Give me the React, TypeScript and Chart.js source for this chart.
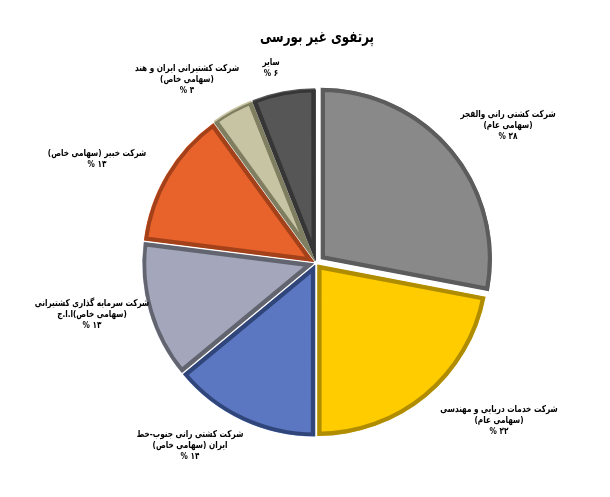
import { useEffect, useRef } from 'react'
import { Chart, ChartConfiguration, Plugin } from 'chart.js/auto'

// slices, clockwise from 12 o'clock
const categories = [
  'شرکت کشتی رانی والفجر (سهامی عام)',
  'شرکت خدمات دریایی و مهندسی (سهامی عام)',
  'شرکت کشتی رانی جنوب-خط ایران (سهامی خاص)',
  'شرکت سرمایه گذاری کشتیرانی ج.ا.ا(سهامی خاص)',
  'شرکت خبیر (سهامی خاص)',
  'شرکت کشتیرانی ایران و هند (سهامی خاص)',
  'سایر',
]
const shares = [28, 22, 14, 13, 13, 4, 6]
const percentLabels = ['۲۸ %', '۲۲ %', '۱۴ %', '۱۳ %', '۱۳ %', '۴ %', '۶ %']
const nameLines = [
  ['شرکت کشتی رانی والفجر', '(سهامی عام)'],
  ['شرکت خدمات دریایی و مهندسی', '(سهامی عام)'],
  ['شرکت کشتی رانی جنوب-خط', 'ایران (سهامی خاص)'],
  ['شرکت سرمایه گذاری کشتیرانی', 'ج\u200E.\u200Eا\u200E.\u200Eا\u200E(سهامی خاص)'],
  ['شرکت خبیر (سهامی خاص)'],
  ['شرکت کشتیرانی ایران و هند', '(سهامی خاص)'],
  ['سایر'],
]
const chartTitle = 'پرتفوی غیر بورسی'

// styling / layout
const fills = ['#898989', '#ffcc00', '#5b77c1', '#a4a6bb', '#e8622c', '#c6c4a2', '#565656']
const rims = ['#5c5c5c', '#b08c00', '#30457a', '#62646f', '#a3411a', '#7f7e60', '#363636']
const offsets = [26, 10, 10, 10, 10, 10, 10]
const labelAnchors = [
  [508, 126],
  [499, 421],
  [190, 446],
  [92, 315],
  [97, 159],
  [187, 80],
  [271, 68],
]
const FONT = '"DejaVu Sans", sans-serif'

function drawText(ctx: CanvasRenderingContext2D, t: string, x: number, y: number, sx: number) {
  ctx.save()
  ;(ctx as any).direction = t.includes('\u200E') ? 'ltr' : 'rtl'
  ctx.translate(x, y)
  ctx.scale(sx, 1)
  ctx.fillText(t, 0, 0)
  ctx.restore()
}

const labelPlugin: Plugin = {
  id: 'sliceLabels',
  afterDraw(chart) {
    const ctx = chart.ctx
    ctx.save()
    ctx.fillStyle = '#000'
    ctx.textAlign = 'center'
    ctx.textBaseline = 'middle'
    ctx.font = `bold 16px ${FONT}`
    drawText(ctx, chartTitle, 317, 38, 0.74)

    ctx.font = `bold 9.5px ${FONT}`
    const lh = 11
    nameLines.forEach((lines, i) => {
      const all = [...lines, percentLabels[i]]
      const [cx, cy] = labelAnchors[i]
      const y0 = cy - ((all.length - 1) * lh) / 2
      all.forEach((t, j) => drawText(ctx, t, cx, y0 + j * lh, 0.77))
    })
    ctx.restore()
  },
}

export default function App() {
  const chartRef = useRef<HTMLCanvasElement>(null)

  useEffect(() => {
    document.body.style.margin = '0'
    if (!chartRef.current) return
    const ctx = chartRef.current.getContext('2d')
    if (!ctx) return
    const chart = new Chart(ctx, {
      type: 'pie',
      data: {
        labels: categories,
        datasets: [
          {
            data: shares,
            backgroundColor: fills,
            borderColor: rims,
            borderWidth: 4,
            borderAlign: 'inner',
            offset: offsets,
          },
        ],
      },
      options: {
        animation: false,
        responsive: true,
        maintainAspectRatio: false,
        events: [],
        radius: 171,
        layout: { padding: { left: 30, right: 8, top: 40, bottom: 11 } },
        plugins: {
          legend: { display: false },
          tooltip: { enabled: false },
          title: { display: false },
        },
      },
      plugins: [labelPlugin],
    } as ChartConfiguration)

    return () => {
      chart.destroy()
    }
  }, [])

  return (
    <div style={{ position: 'absolute', left: 0, top: 0, width: 610, height: 497, background: '#fff' }}>
      <canvas ref={chartRef} />
    </div>
  )
}
